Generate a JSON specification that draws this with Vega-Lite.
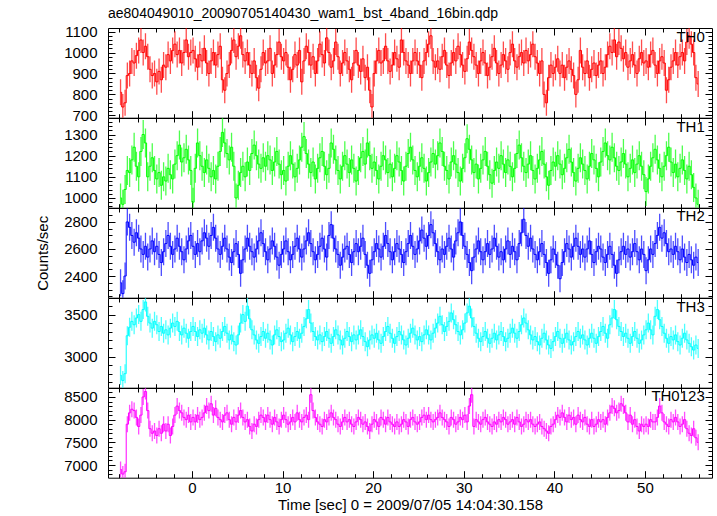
{
"$schema": "https://vega.github.io/schema/vega-lite/v6.json",
"padding": {"left": 35, "top": 7, "right": 0, "bottom": 0},
"background": "white",
"title": {"text": "ae804049010_20090705140430_wam1_bst_4band_16bin.qdp", "anchor": "start", "frame": "group", "fontSize": 14, "fontWeight": "normal", "font": "Liberation Sans", "color": "black", "offset": 3},
"config": {
  "font": "Liberation Sans",
  "view": {"stroke": "black", "strokeWidth": 1},
  "axis": {"domain": false, "grid": false, "tickColor": "black", "tickWidth": 1, "labelColor": "black", "labelFont": "Liberation Sans", "labelFontSize": 15, "titleFont": "Liberation Sans", "titleFontSize": 15, "titleFontWeight": "normal", "titleColor": "black"}
},
"datasets": {"lc": [
{"t":-7.875,"TH0":810,"TH1":1000,"TH2":2350,"TH3":2780,"TH0123":6900},
{"t":-7.625,"TH0":740,"TH1":970,"TH2":2270,"TH3":2720,"TH0123":6800},
{"t":-7.375,"TH0":760,"TH1":1040,"TH2":2400,"TH3":2800,"TH0123":6850},
{"t":-7.125,"TH0":890,"TH1":1130,"TH2":2800,"TH3":3250,"TH0123":7900},
{"t":-6.875,"TH0":900,"TH1":1120,"TH2":2760,"TH3":3350,"TH0123":8150},
{"t":-6.625,"TH0":960,"TH1":1180,"TH2":2700,"TH3":3420,"TH0123":8230},
{"t":-6.375,"TH0":950,"TH1":1240,"TH2":2650,"TH3":3380,"TH0123":8200},
{"t":-6.125,"TH0":985,"TH1":1150,"TH2":2720,"TH3":3460,"TH0123":8050},
{"t":-5.875,"TH0":1010,"TH1":1100,"TH2":2680,"TH3":3500,"TH0123":7850},
{"t":-5.625,"TH0":1060,"TH1":1220,"TH2":2600,"TH3":3420,"TH0123":8100},
{"t":-5.375,"TH0":1000,"TH1":1300,"TH2":2560,"TH3":3560,"TH0123":8500},
{"t":-5.125,"TH0":1030,"TH1":1260,"TH2":2620,"TH3":3650,"TH0123":8620},
{"t":-4.875,"TH0":980,"TH1":1100,"TH2":2540,"TH3":3480,"TH0123":8200},
{"t":-4.625,"TH0":920,"TH1":1150,"TH2":2600,"TH3":3400,"TH0123":7800},
{"t":-4.375,"TH0":890,"TH1":1190,"TH2":2660,"TH3":3340,"TH0123":7700},
{"t":-4.125,"TH0":900,"TH1":1130,"TH2":2580,"TH3":3420,"TH0123":7750},
{"t":-3.875,"TH0":860,"TH1":1090,"TH2":2620,"TH3":3380,"TH0123":7650},
{"t":-3.625,"TH0":910,"TH1":1120,"TH2":2560,"TH3":3300,"TH0123":7800},
{"t":-3.375,"TH0":870,"TH1":1060,"TH2":2500,"TH3":3360,"TH0123":7700},
{"t":-3.125,"TH0":940,"TH1":1100,"TH2":2580,"TH3":3280,"TH0123":7900},
{"t":-2.875,"TH0":930,"TH1":1080,"TH2":2640,"TH3":3320,"TH0123":7750},
{"t":-2.625,"TH0":990,"TH1":1140,"TH2":2700,"TH3":3260,"TH0123":7900},
{"t":-2.375,"TH0":960,"TH1":1110,"TH2":2620,"TH3":3340,"TH0123":7650},
{"t":-2.125,"TH0":1010,"TH1":1090,"TH2":2560,"TH3":3400,"TH0123":7850},
{"t":-1.875,"TH0":1040,"TH1":1160,"TH2":2600,"TH3":3360,"TH0123":8100},
{"t":-1.625,"TH0":990,"TH1":1200,"TH2":2680,"TH3":3420,"TH0123":8300},
{"t":-1.375,"TH0":1010,"TH1":1250,"TH2":2620,"TH3":3300,"TH0123":8200},
{"t":-1.125,"TH0":950,"TH1":1170,"TH2":2580,"TH3":3260,"TH0123":8150},
{"t":-0.875,"TH0":1000,"TH1":1190,"TH2":2520,"TH3":3340,"TH0123":8050},
{"t":-0.625,"TH0":1060,"TH1":1230,"TH2":2600,"TH3":3280,"TH0123":8000},
{"t":-0.375,"TH0":980,"TH1":1180,"TH2":2660,"TH3":3220,"TH0123":8100},
{"t":-0.125,"TH0":1000,"TH1":1130,"TH2":2700,"TH3":3300,"TH0123":7950},
{"t":0.125,"TH0":1010,"TH1":980,"TH2":2620,"TH3":3360,"TH0123":8050},
{"t":0.375,"TH0":970,"TH1":1140,"TH2":2560,"TH3":3300,"TH0123":7950},
{"t":0.625,"TH0":930,"TH1":1260,"TH2":2640,"TH3":3240,"TH0123":8100},
{"t":0.875,"TH0":990,"TH1":1200,"TH2":2580,"TH3":3320,"TH0123":8000},
{"t":1.125,"TH0":960,"TH1":1150,"TH2":2660,"TH3":3280,"TH0123":8050},
{"t":1.375,"TH0":1020,"TH1":1120,"TH2":2720,"TH3":3340,"TH0123":8150},
{"t":1.625,"TH0":950,"TH1":1180,"TH2":2680,"TH3":3260,"TH0123":8300},
{"t":1.875,"TH0":900,"TH1":1140,"TH2":2620,"TH3":3200,"TH0123":8200},
{"t":2.125,"TH0":960,"TH1":1100,"TH2":2700,"TH3":3300,"TH0123":8350},
{"t":2.375,"TH0":1000,"TH1":1130,"TH2":2760,"TH3":3240,"TH0123":8100},
{"t":2.625,"TH0":940,"TH1":1090,"TH2":2680,"TH3":3180,"TH0123":8250},
{"t":2.875,"TH0":990,"TH1":1150,"TH2":2600,"TH3":3260,"TH0123":8050},
{"t":3.125,"TH0":1030,"TH1":1220,"TH2":2560,"TH3":3220,"TH0123":8000},
{"t":3.375,"TH0":870,"TH1":1310,"TH2":2620,"TH3":3300,"TH0123":7950},
{"t":3.625,"TH0":820,"TH1":1260,"TH2":2680,"TH3":3360,"TH0123":8100},
{"t":3.875,"TH0":900,"TH1":1210,"TH2":2600,"TH3":3280,"TH0123":8150},
{"t":4.125,"TH0":940,"TH1":1180,"TH2":2540,"TH3":3200,"TH0123":8000},
{"t":4.375,"TH0":1010,"TH1":1240,"TH2":2500,"TH3":3260,"TH0123":7900},
{"t":4.625,"TH0":1060,"TH1":1150,"TH2":2580,"TH3":3180,"TH0123":8050},
{"t":4.875,"TH0":980,"TH1":1000,"TH2":2640,"TH3":3140,"TH0123":7950},
{"t":5.125,"TH0":1030,"TH1":1060,"TH2":2560,"TH3":3260,"TH0123":8100},
{"t":5.375,"TH0":1080,"TH1":1120,"TH2":2420,"TH3":3400,"TH0123":8200},
{"t":5.625,"TH0":990,"TH1":1150,"TH2":2520,"TH3":3500,"TH0123":8050},
{"t":5.875,"TH0":960,"TH1":1100,"TH2":2600,"TH3":3420,"TH0123":7950},
{"t":6.125,"TH0":1000,"TH1":1170,"TH2":2680,"TH3":3600,"TH0123":8000},
{"t":6.375,"TH0":940,"TH1":1130,"TH2":2620,"TH3":3450,"TH0123":7850},
{"t":6.625,"TH0":900,"TH1":1210,"TH2":2580,"TH3":3320,"TH0123":7750},
{"t":6.875,"TH0":960,"TH1":1250,"TH2":2540,"TH3":3260,"TH0123":7900},
{"t":7.125,"TH0":880,"TH1":1200,"TH2":2600,"TH3":3200,"TH0123":7850},
{"t":7.375,"TH0":830,"TH1":1160,"TH2":2660,"TH3":3160,"TH0123":8000},
{"t":7.625,"TH0":920,"TH1":1140,"TH2":2720,"TH3":3240,"TH0123":8100},
{"t":7.875,"TH0":1000,"TH1":1190,"TH2":2640,"TH3":3300,"TH0123":8050},
{"t":8.125,"TH0":950,"TH1":1150,"TH2":2580,"TH3":3220,"TH0123":7950},
{"t":8.375,"TH0":960,"TH1":1200,"TH2":2520,"TH3":3280,"TH0123":8100},
{"t":8.625,"TH0":1020,"TH1":1180,"TH2":2600,"TH3":3200,"TH0123":8000},
{"t":8.875,"TH0":900,"TH1":1130,"TH2":2660,"TH3":3140,"TH0123":7900},
{"t":9.125,"TH0":940,"TH1":1170,"TH2":2620,"TH3":3260,"TH0123":8050},
{"t":9.375,"TH0":990,"TH1":1220,"TH2":2540,"TH3":3320,"TH0123":7950},
{"t":9.625,"TH0":1050,"TH1":1160,"TH2":2480,"TH3":3240,"TH0123":7850},
{"t":9.875,"TH0":980,"TH1":1110,"TH2":2560,"TH3":3180,"TH0123":8000},
{"t":10.125,"TH0":960,"TH1":1130,"TH2":2600,"TH3":3200,"TH0123":8100},
{"t":10.375,"TH0":1000,"TH1":1080,"TH2":2660,"TH3":3280,"TH0123":8000},
{"t":10.625,"TH0":930,"TH1":1150,"TH2":2580,"TH3":3340,"TH0123":7900},
{"t":10.875,"TH0":870,"TH1":1200,"TH2":2520,"TH3":3260,"TH0123":7950},
{"t":11.125,"TH0":920,"TH1":1160,"TH2":2560,"TH3":3180,"TH0123":8050},
{"t":11.375,"TH0":990,"TH1":1100,"TH2":2620,"TH3":3240,"TH0123":7950},
{"t":11.625,"TH0":940,"TH1":1140,"TH2":2680,"TH3":3300,"TH0123":8150},
{"t":11.875,"TH0":1010,"TH1":1180,"TH2":2600,"TH3":3220,"TH0123":8000},
{"t":12.125,"TH0":860,"TH1":1240,"TH2":2540,"TH3":3280,"TH0123":7950},
{"t":12.375,"TH0":960,"TH1":1290,"TH2":2600,"TH3":3360,"TH0123":8050},
{"t":12.625,"TH0":1030,"TH1":1210,"TH2":2660,"TH3":3450,"TH0123":8100},
{"t":12.875,"TH0":1000,"TH1":1160,"TH2":2720,"TH3":3560,"TH0123":8000},
{"t":13.125,"TH0":940,"TH1":1120,"TH2":2640,"TH3":3400,"TH0123":8550},
{"t":13.375,"TH0":980,"TH1":1170,"TH2":2580,"TH3":3300,"TH0123":8200},
{"t":13.625,"TH0":900,"TH1":1090,"TH2":2520,"TH3":3240,"TH0123":8050},
{"t":13.875,"TH0":960,"TH1":1140,"TH2":2560,"TH3":3200,"TH0123":7950},
{"t":14.125,"TH0":1040,"TH1":1190,"TH2":2620,"TH3":3260,"TH0123":7900},
{"t":14.375,"TH0":990,"TH1":1220,"TH2":2680,"TH3":3180,"TH0123":7850},
{"t":14.625,"TH0":950,"TH1":1150,"TH2":2600,"TH3":3240,"TH0123":8000},
{"t":14.875,"TH0":1070,"TH1":1110,"TH2":2540,"TH3":3300,"TH0123":7950},
{"t":15.125,"TH0":1000,"TH1":1140,"TH2":2700,"TH3":3220,"TH0123":8050},
{"t":15.375,"TH0":930,"TH1":1260,"TH2":2780,"TH3":3160,"TH0123":8150},
{"t":15.625,"TH0":960,"TH1":1230,"TH2":2680,"TH3":3240,"TH0123":8050},
{"t":15.875,"TH0":1050,"TH1":1180,"TH2":2600,"TH3":3320,"TH0123":8000},
{"t":16.125,"TH0":980,"TH1":1130,"TH2":2560,"TH3":3260,"TH0123":7900},
{"t":16.375,"TH0":900,"TH1":1090,"TH2":2480,"TH3":3200,"TH0123":7850},
{"t":16.625,"TH0":950,"TH1":1150,"TH2":2540,"TH3":3140,"TH0123":7950},
{"t":16.875,"TH0":1000,"TH1":1200,"TH2":2600,"TH3":3220,"TH0123":8050},
{"t":17.125,"TH0":960,"TH1":1160,"TH2":2620,"TH3":3300,"TH0123":7950},
{"t":17.375,"TH0":920,"TH1":1120,"TH2":2560,"TH3":3240,"TH0123":8000},
{"t":17.625,"TH0":870,"TH1":1180,"TH2":2500,"TH3":3180,"TH0123":7900},
{"t":17.875,"TH0":950,"TH1":1140,"TH2":2580,"TH3":3260,"TH0123":7850},
{"t":18.125,"TH0":1010,"TH1":1080,"TH2":2640,"TH3":3200,"TH0123":7950},
{"t":18.375,"TH0":940,"TH1":1130,"TH2":2580,"TH3":3260,"TH0123":8050},
{"t":18.625,"TH0":910,"TH1":1190,"TH2":2620,"TH3":3320,"TH0123":8000},
{"t":18.875,"TH0":970,"TH1":1220,"TH2":2680,"TH3":3240,"TH0123":7900},
{"t":19.125,"TH0":880,"TH1":1160,"TH2":2560,"TH3":3180,"TH0123":7950},
{"t":19.375,"TH0":930,"TH1":1260,"TH2":2480,"TH3":3120,"TH0123":7850},
{"t":19.625,"TH0":820,"TH1":1200,"TH2":2420,"TH3":3200,"TH0123":7750},
{"t":19.875,"TH0":740,"TH1":1140,"TH2":2520,"TH3":3260,"TH0123":7900},
{"t":20.125,"TH0":900,"TH1":1170,"TH2":2580,"TH3":3220,"TH0123":8000},
{"t":20.375,"TH0":960,"TH1":1130,"TH2":2640,"TH3":3280,"TH0123":7950},
{"t":20.625,"TH0":1010,"TH1":1090,"TH2":2600,"TH3":3200,"TH0123":7850},
{"t":20.875,"TH0":950,"TH1":1150,"TH2":2540,"TH3":3160,"TH0123":8050},
{"t":21.125,"TH0":960,"TH1":1200,"TH2":2620,"TH3":3240,"TH0123":8000},
{"t":21.375,"TH0":1030,"TH1":1180,"TH2":2700,"TH3":3300,"TH0123":7900},
{"t":21.625,"TH0":960,"TH1":1120,"TH2":2640,"TH3":3360,"TH0123":8050},
{"t":21.875,"TH0":910,"TH1":1160,"TH2":2580,"TH3":3280,"TH0123":7950},
{"t":22.125,"TH0":940,"TH1":1100,"TH2":2520,"TH3":3220,"TH0123":7900},
{"t":22.375,"TH0":1000,"TH1":1140,"TH2":2580,"TH3":3160,"TH0123":7850},
{"t":22.625,"TH0":970,"TH1":1200,"TH2":2640,"TH3":3240,"TH0123":7950},
{"t":22.875,"TH0":930,"TH1":1170,"TH2":2600,"TH3":3300,"TH0123":7850},
{"t":23.125,"TH0":1060,"TH1":1130,"TH2":2560,"TH3":3260,"TH0123":7900},
{"t":23.375,"TH0":1000,"TH1":1080,"TH2":2500,"TH3":3200,"TH0123":8000},
{"t":23.625,"TH0":960,"TH1":1150,"TH2":2580,"TH3":3140,"TH0123":7950},
{"t":23.875,"TH0":940,"TH1":1210,"TH2":2640,"TH3":3220,"TH0123":7850},
{"t":24.125,"TH0":900,"TH1":1240,"TH2":2700,"TH3":3280,"TH0123":8000},
{"t":24.375,"TH0":960,"TH1":1180,"TH2":2620,"TH3":3340,"TH0123":8050},
{"t":24.625,"TH0":1000,"TH1":1130,"TH2":2560,"TH3":3260,"TH0123":7950},
{"t":24.875,"TH0":960,"TH1":1100,"TH2":2600,"TH3":3200,"TH0123":7900},
{"t":25.125,"TH0":940,"TH1":1150,"TH2":2660,"TH3":3240,"TH0123":7950},
{"t":25.375,"TH0":880,"TH1":1190,"TH2":2740,"TH3":3180,"TH0123":8050},
{"t":25.625,"TH0":960,"TH1":1140,"TH2":2680,"TH3":3260,"TH0123":8100},
{"t":25.875,"TH0":1000,"TH1":1080,"TH2":2620,"TH3":3320,"TH0123":8000},
{"t":26.125,"TH0":1040,"TH1":1120,"TH2":2700,"TH3":3260,"TH0123":8100},
{"t":26.375,"TH0":1080,"TH1":1170,"TH2":2780,"TH3":3200,"TH0123":8000},
{"t":26.625,"TH0":960,"TH1":1210,"TH2":2720,"TH3":3280,"TH0123":7950},
{"t":26.875,"TH0":930,"TH1":1160,"TH2":2640,"TH3":3340,"TH0123":8000},
{"t":27.125,"TH0":960,"TH1":1200,"TH2":2580,"TH3":3400,"TH0123":8050},
{"t":27.375,"TH0":920,"TH1":1260,"TH2":2520,"TH3":3480,"TH0123":8150},
{"t":27.625,"TH0":980,"TH1":1220,"TH2":2600,"TH3":3380,"TH0123":8050},
{"t":27.875,"TH0":1010,"TH1":1150,"TH2":2560,"TH3":3300,"TH0123":8000},
{"t":28.125,"TH0":940,"TH1":1130,"TH2":2620,"TH3":3360,"TH0123":7950},
{"t":28.375,"TH0":890,"TH1":1090,"TH2":2680,"TH3":3420,"TH0123":7850},
{"t":28.625,"TH0":950,"TH1":1170,"TH2":2600,"TH3":3520,"TH0123":8050},
{"t":28.875,"TH0":1000,"TH1":1200,"TH2":2540,"TH3":3440,"TH0123":8000},
{"t":29.125,"TH0":960,"TH1":1160,"TH2":2660,"TH3":3380,"TH0123":7900},
{"t":29.375,"TH0":1030,"TH1":1120,"TH2":2720,"TH3":3300,"TH0123":7950},
{"t":29.625,"TH0":990,"TH1":1080,"TH2":2800,"TH3":3260,"TH0123":8050},
{"t":29.875,"TH0":940,"TH1":1140,"TH2":2700,"TH3":3320,"TH0123":8000},
{"t":30.125,"TH0":910,"TH1":1190,"TH2":2620,"TH3":3400,"TH0123":8100},
{"t":30.375,"TH0":970,"TH1":1280,"TH2":2560,"TH3":3520,"TH0123":7950},
{"t":30.625,"TH0":1050,"TH1":1230,"TH2":2500,"TH3":3600,"TH0123":8300},
{"t":30.875,"TH0":1010,"TH1":1180,"TH2":2440,"TH3":3460,"TH0123":8550},
{"t":31.125,"TH0":980,"TH1":1120,"TH2":2540,"TH3":3360,"TH0123":7850},
{"t":31.375,"TH0":940,"TH1":1160,"TH2":2600,"TH3":3280,"TH0123":8000},
{"t":31.625,"TH0":900,"TH1":1090,"TH2":2660,"TH3":3220,"TH0123":7950},
{"t":31.875,"TH0":960,"TH1":1140,"TH2":2580,"TH3":3180,"TH0123":7900},
{"t":32.125,"TH0":1000,"TH1":1180,"TH2":2520,"TH3":3240,"TH0123":8000},
{"t":32.375,"TH0":950,"TH1":1220,"TH2":2580,"TH3":3300,"TH0123":8050},
{"t":32.625,"TH0":890,"TH1":1150,"TH2":2640,"TH3":3220,"TH0123":7950},
{"t":32.875,"TH0":930,"TH1":1110,"TH2":2560,"TH3":3160,"TH0123":7900},
{"t":33.125,"TH0":980,"TH1":1070,"TH2":2600,"TH3":3220,"TH0123":7850},
{"t":33.375,"TH0":1020,"TH1":1130,"TH2":2680,"TH3":3280,"TH0123":7950},
{"t":33.625,"TH0":950,"TH1":1170,"TH2":2620,"TH3":3200,"TH0123":7900},
{"t":33.875,"TH0":900,"TH1":1140,"TH2":2540,"TH3":3260,"TH0123":8000},
{"t":34.125,"TH0":940,"TH1":1200,"TH2":2580,"TH3":3300,"TH0123":7950},
{"t":34.375,"TH0":990,"TH1":1160,"TH2":2520,"TH3":3240,"TH0123":8050},
{"t":34.625,"TH0":960,"TH1":1120,"TH2":2600,"TH3":3180,"TH0123":8000},
{"t":34.875,"TH0":920,"TH1":1180,"TH2":2660,"TH3":3220,"TH0123":7900},
{"t":35.125,"TH0":1000,"TH1":1150,"TH2":2560,"TH3":3280,"TH0123":7950},
{"t":35.375,"TH0":1040,"TH1":1100,"TH2":2620,"TH3":3340,"TH0123":8000},
{"t":35.625,"TH0":960,"TH1":1140,"TH2":2580,"TH3":3280,"TH0123":7900},
{"t":35.875,"TH0":930,"TH1":1210,"TH2":2520,"TH3":3220,"TH0123":8050},
{"t":36.125,"TH0":980,"TH1":1250,"TH2":2640,"TH3":3300,"TH0123":7950},
{"t":36.375,"TH0":1000,"TH1":1190,"TH2":2720,"TH3":3380,"TH0123":7850},
{"t":36.625,"TH0":950,"TH1":1150,"TH2":2820,"TH3":3460,"TH0123":7900},
{"t":36.875,"TH0":1010,"TH1":1120,"TH2":2700,"TH3":3400,"TH0123":8000},
{"t":37.125,"TH0":960,"TH1":1160,"TH2":2620,"TH3":3320,"TH0123":7950},
{"t":37.375,"TH0":990,"TH1":1200,"TH2":2680,"TH3":3260,"TH0123":8000},
{"t":37.625,"TH0":1040,"TH1":1130,"TH2":2600,"TH3":3200,"TH0123":7900},
{"t":37.875,"TH0":980,"TH1":1090,"TH2":2560,"TH3":3240,"TH0123":7850},
{"t":38.125,"TH0":950,"TH1":1140,"TH2":2520,"TH3":3180,"TH0123":7900},
{"t":38.375,"TH0":900,"TH1":1180,"TH2":2580,"TH3":3140,"TH0123":7950},
{"t":38.625,"TH0":960,"TH1":1220,"TH2":2640,"TH3":3220,"TH0123":7850},
{"t":38.875,"TH0":800,"TH1":1160,"TH2":2560,"TH3":3280,"TH0123":7800},
{"t":39.125,"TH0":760,"TH1":1100,"TH2":2500,"TH3":3200,"TH0123":7750},
{"t":39.375,"TH0":880,"TH1":1060,"TH2":2420,"TH3":3140,"TH0123":7700},
{"t":39.625,"TH0":940,"TH1":1130,"TH2":2520,"TH3":3100,"TH0123":7850},
{"t":39.875,"TH0":900,"TH1":1170,"TH2":2600,"TH3":3180,"TH0123":7900},
{"t":40.125,"TH0":930,"TH1":1150,"TH2":2560,"TH3":3240,"TH0123":8000},
{"t":40.375,"TH0":970,"TH1":1200,"TH2":2480,"TH3":3300,"TH0123":8100},
{"t":40.625,"TH0":900,"TH1":1160,"TH2":2380,"TH3":3220,"TH0123":8050},
{"t":40.875,"TH0":940,"TH1":1110,"TH2":2500,"TH3":3160,"TH0123":8150},
{"t":41.125,"TH0":880,"TH1":1140,"TH2":2580,"TH3":3220,"TH0123":8050},
{"t":41.375,"TH0":930,"TH1":1190,"TH2":2640,"TH3":3280,"TH0123":7950},
{"t":41.625,"TH0":960,"TH1":1230,"TH2":2600,"TH3":3200,"TH0123":8100},
{"t":41.875,"TH0":920,"TH1":1170,"TH2":2540,"TH3":3140,"TH0123":8000},
{"t":42.125,"TH0":890,"TH1":1120,"TH2":2620,"TH3":3180,"TH0123":8050},
{"t":42.375,"TH0":800,"TH1":1080,"TH2":2680,"TH3":3240,"TH0123":7900},
{"t":42.625,"TH0":870,"TH1":1140,"TH2":2620,"TH3":3300,"TH0123":8100},
{"t":42.875,"TH0":1010,"TH1":1190,"TH2":2560,"TH3":3220,"TH0123":8000},
{"t":43.125,"TH0":930,"TH1":1160,"TH2":2600,"TH3":3260,"TH0123":7950},
{"t":43.375,"TH0":900,"TH1":1130,"TH2":2540,"TH3":3200,"TH0123":8050},
{"t":43.625,"TH0":960,"TH1":1090,"TH2":2600,"TH3":3140,"TH0123":7900},
{"t":43.875,"TH0":880,"TH1":1150,"TH2":2660,"TH3":3220,"TH0123":7850},
{"t":44.125,"TH0":920,"TH1":1210,"TH2":2560,"TH3":3280,"TH0123":8000},
{"t":44.375,"TH0":950,"TH1":1180,"TH2":2500,"TH3":3220,"TH0123":7850},
{"t":44.625,"TH0":890,"TH1":1140,"TH2":2580,"TH3":3160,"TH0123":7900},
{"t":44.875,"TH0":940,"TH1":1100,"TH2":2620,"TH3":3240,"TH0123":8000},
{"t":45.125,"TH0":960,"TH1":1170,"TH2":2600,"TH3":3300,"TH0123":7950},
{"t":45.375,"TH0":900,"TH1":1220,"TH2":2540,"TH3":3360,"TH0123":8000},
{"t":45.625,"TH0":930,"TH1":1260,"TH2":2500,"TH3":3280,"TH0123":7900},
{"t":45.875,"TH0":990,"TH1":1200,"TH2":2560,"TH3":3220,"TH0123":8050},
{"t":46.125,"TH0":1030,"TH1":1180,"TH2":2620,"TH3":3380,"TH0123":8150},
{"t":46.375,"TH0":1000,"TH1":1240,"TH2":2560,"TH3":3460,"TH0123":8300},
{"t":46.625,"TH0":1060,"TH1":1190,"TH2":2480,"TH3":3560,"TH0123":8250},
{"t":46.875,"TH0":980,"TH1":1150,"TH2":2420,"TH3":3440,"TH0123":8150},
{"t":47.125,"TH0":1050,"TH1":1130,"TH2":2520,"TH3":3360,"TH0123":8200},
{"t":47.375,"TH0":1020,"TH1":1170,"TH2":2580,"TH3":3300,"TH0123":8350},
{"t":47.625,"TH0":970,"TH1":1210,"TH2":2620,"TH3":3240,"TH0123":8300},
{"t":47.875,"TH0":1000,"TH1":1160,"TH2":2560,"TH3":3280,"TH0123":8150},
{"t":48.125,"TH0":930,"TH1":1100,"TH2":2600,"TH3":3220,"TH0123":7950},
{"t":48.375,"TH0":960,"TH1":1140,"TH2":2540,"TH3":3160,"TH0123":8100},
{"t":48.625,"TH0":990,"TH1":1180,"TH2":2580,"TH3":3240,"TH0123":7900},
{"t":48.875,"TH0":940,"TH1":1120,"TH2":2640,"TH3":3300,"TH0123":8000},
{"t":49.125,"TH0":900,"TH1":1160,"TH2":2580,"TH3":3220,"TH0123":7850},
{"t":49.375,"TH0":970,"TH1":1200,"TH2":2520,"TH3":3160,"TH0123":7750},
{"t":49.625,"TH0":1000,"TH1":1150,"TH2":2600,"TH3":3200,"TH0123":7900},
{"t":49.875,"TH0":950,"TH1":1110,"TH2":2560,"TH3":3260,"TH0123":7850},
{"t":50.125,"TH0":960,"TH1":1030,"TH2":2440,"TH3":3320,"TH0123":7900},
{"t":50.375,"TH0":930,"TH1":1090,"TH2":2520,"TH3":3400,"TH0123":7850},
{"t":50.625,"TH0":990,"TH1":1150,"TH2":2600,"TH3":3320,"TH0123":8000},
{"t":50.875,"TH0":1010,"TH1":1190,"TH2":2560,"TH3":3260,"TH0123":7950},
{"t":51.125,"TH0":940,"TH1":1230,"TH2":2640,"TH3":3480,"TH0123":7950},
{"t":51.375,"TH0":900,"TH1":1180,"TH2":2700,"TH3":3560,"TH0123":8050},
{"t":51.625,"TH0":960,"TH1":1140,"TH2":2760,"TH3":3440,"TH0123":8300},
{"t":51.875,"TH0":980,"TH1":1100,"TH2":2680,"TH3":3360,"TH0123":8150},
{"t":52.125,"TH0":950,"TH1":1150,"TH2":2720,"TH3":3280,"TH0123":7950},
{"t":52.375,"TH0":820,"TH1":1200,"TH2":2640,"TH3":3220,"TH0123":7900},
{"t":52.625,"TH0":870,"TH1":1240,"TH2":2580,"TH3":3160,"TH0123":7850},
{"t":52.875,"TH0":930,"TH1":1170,"TH2":2600,"TH3":3240,"TH0123":8000},
{"t":53.125,"TH0":960,"TH1":1120,"TH2":2560,"TH3":3200,"TH0123":7950},
{"t":53.375,"TH0":1000,"TH1":1160,"TH2":2620,"TH3":3260,"TH0123":8050},
{"t":53.625,"TH0":940,"TH1":1100,"TH2":2580,"TH3":3180,"TH0123":7950},
{"t":53.875,"TH0":980,"TH1":1140,"TH2":2520,"TH3":3140,"TH0123":7850},
{"t":54.125,"TH0":1000,"TH1":1180,"TH2":2600,"TH3":3220,"TH0123":7900},
{"t":54.375,"TH0":960,"TH1":1130,"TH2":2540,"TH3":3280,"TH0123":8000},
{"t":54.625,"TH0":1050,"TH1":1090,"TH2":2500,"TH3":3200,"TH0123":7800},
{"t":54.875,"TH0":1080,"TH1":1150,"TH2":2560,"TH3":3160,"TH0123":7700},
{"t":55.125,"TH0":1040,"TH1":1110,"TH2":2520,"TH3":3120,"TH0123":7650},
{"t":55.375,"TH0":1000,"TH1":1050,"TH2":2480,"TH3":3080,"TH0123":7800},
{"t":55.625,"TH0":880,"TH1":1000,"TH2":2540,"TH3":3140,"TH0123":7600},
{"t":55.875,"TH0":850,"TH1":970,"TH2":2500,"TH3":3100,"TH0123":7500}
]},
"data": {"name": "lc"},
"spacing": 0,
"bounds": "flush",
"vconcat": [
{
 "width": 604, "height": 89.7,
 "layer": [
  {"mark": {"type": "tick", "orient": "vertical", "size": 26, "thickness": 1.3, "color": "#ff0000", "opacity": 0.7, "clip": true},
   "encoding": {
    "x": {"field": "t", "type": "quantitative", "scale": {"domain": [-9.26, 57.4], "nice": false, "zero": false}, "axis": {"orient": "bottom", "values": [0,10,20,30,40,50], "labels": false, "tickSize": -7, "title": null}},
    "y": {"field": "TH0", "type": "quantitative", "scale": {"domain": [689, 1117], "nice": false, "zero": false}, "axis": {"orient": "left", "values": [700,800,900,1000,1100], "labels": false, "tickSize": -7, "title": null}}}},
  {"mark": {"type": "line", "interpolate": "step", "color": "#ff0000", "strokeWidth": 1, "clip": true},
   "encoding": {
    "x": {"field": "t", "type": "quantitative", "axis": {"orient": "top", "values": [0,10,20,30,40,50], "labels": false, "tickSize": -7, "title": null}},
    "y": {"field": "TH0", "type": "quantitative", "axis": {"orient": "right", "values": [700,800,900,1000,1100], "labels": false, "tickSize": -7, "title": null}}}},
  {"mark": {"type": "point", "opacity": 0},
   "encoding": {
    "x": {"field": "t", "type": "quantitative", "axis": {"orient": "bottom", "values": [-8,-6,-4,-2,2,4,6,8,12,14,16,18,22,24,26,28,32,34,36,38,42,44,46,48,52,54,56], "labels": false, "tickSize": -4, "title": null}},
    "y": {"field": "TH0", "type": "quantitative", "axis": {"orient": "left", "values": [720,740,760,780,820,840,860,880,920,940,960,980,1020,1040,1060,1080], "labels": false, "tickSize": -4, "title": null}}}},
  {"mark": {"type": "point", "opacity": 0},
   "encoding": {
    "x": {"field": "t", "type": "quantitative", "axis": {"orient": "top", "values": [-8,-6,-4,-2,2,4,6,8,12,14,16,18,22,24,26,28,32,34,36,38,42,44,46,48,52,54,56], "labels": false, "tickSize": -4, "title": null}},
    "y": {"field": "TH0", "type": "quantitative", "axis": {"orient": "right", "values": [720,740,760,780,820,840,860,880,920,940,960,980,1020,1040,1060,1080], "labels": false, "tickSize": -4, "title": null}}}},
  {"mark": {"type": "point", "opacity": 0},
   "encoding": {
    "x": {"field": "t", "type": "quantitative", "axis": null},
    "y": {"field": "TH0", "type": "quantitative", "axis": {"orient": "left", "values": [700,800,900,1000,1100], "format": "d", "ticks": false, "labelPadding": 11, "title": null}}}},
  {"data": {"values": [{"label": "TH0"}]},
   "mark": {"type": "text", "align": "right", "baseline": "alphabetic", "fontSize": 15, "font": "Liberation Sans", "color": "black"},
   "encoding": {"x": {"datum": 56.6, "type": "quantitative", "axis": null}, "y": {"datum": 1052, "type": "quantitative", "axis": null}, "text": {"field": "label"}}}
 ],
 "resolve": {"axis": {"x": "independent", "y": "independent"}}
},
{
 "width": 604, "height": 89.7,
 "layer": [
  {"mark": {"type": "tick", "orient": "vertical", "size": 29, "thickness": 1.3, "color": "#00ff00", "opacity": 0.7, "clip": true},
   "encoding": {
    "x": {"field": "t", "type": "quantitative", "scale": {"domain": [-9.26, 57.4], "nice": false, "zero": false}, "axis": {"orient": "bottom", "values": [0,10,20,30,40,50], "labels": false, "tickSize": -7, "title": null}},
    "y": {"field": "TH1", "type": "quantitative", "scale": {"domain": [954, 1378], "nice": false, "zero": false}, "axis": {"orient": "left", "values": [1000,1100,1200,1300], "labels": false, "tickSize": -7, "title": null}}}},
  {"mark": {"type": "line", "interpolate": "step", "color": "#00ff00", "strokeWidth": 1, "clip": true},
   "encoding": {
    "x": {"field": "t", "type": "quantitative", "axis": {"orient": "top", "values": [0,10,20,30,40,50], "labels": false, "tickSize": -7, "title": null}},
    "y": {"field": "TH1", "type": "quantitative", "axis": {"orient": "right", "values": [1000,1100,1200,1300], "labels": false, "tickSize": -7, "title": null}}}},
  {"mark": {"type": "point", "opacity": 0},
   "encoding": {
    "x": {"field": "t", "type": "quantitative", "axis": {"orient": "bottom", "values": [-8,-6,-4,-2,2,4,6,8,12,14,16,18,22,24,26,28,32,34,36,38,42,44,46,48,52,54,56], "labels": false, "tickSize": -4, "title": null}},
    "y": {"field": "TH1", "type": "quantitative", "axis": {"orient": "left", "values": [960,980,1020,1040,1060,1080,1120,1140,1160,1180,1220,1240,1260,1280,1320,1340,1360], "labels": false, "tickSize": -4, "title": null}}}},
  {"mark": {"type": "point", "opacity": 0},
   "encoding": {
    "x": {"field": "t", "type": "quantitative", "axis": {"orient": "top", "values": [-8,-6,-4,-2,2,4,6,8,12,14,16,18,22,24,26,28,32,34,36,38,42,44,46,48,52,54,56], "labels": false, "tickSize": -4, "title": null}},
    "y": {"field": "TH1", "type": "quantitative", "axis": {"orient": "right", "values": [960,980,1020,1040,1060,1080,1120,1140,1160,1180,1220,1240,1260,1280,1320,1340,1360], "labels": false, "tickSize": -4, "title": null}}}},
  {"mark": {"type": "point", "opacity": 0},
   "encoding": {
    "x": {"field": "t", "type": "quantitative", "axis": null},
    "y": {"field": "TH1", "type": "quantitative", "axis": {"orient": "left", "values": [1000,1100,1200,1300], "format": "d", "ticks": false, "labelPadding": 11, "title": null}}}},
  {"data": {"values": [{"label": "TH1"}]},
   "mark": {"type": "text", "align": "right", "baseline": "alphabetic", "fontSize": 15, "font": "Liberation Sans", "color": "black"},
   "encoding": {"x": {"datum": 56.6, "type": "quantitative", "axis": null}, "y": {"datum": 1314, "type": "quantitative", "axis": null}, "text": {"field": "label"}}}
 ],
 "resolve": {"axis": {"x": "independent", "y": "independent"}}
},
{
 "width": 604, "height": 89.7,
 "layer": [
  {"mark": {"type": "tick", "orient": "vertical", "size": 27, "thickness": 1.3, "color": "#0000ff", "opacity": 0.7, "clip": true},
   "encoding": {
    "x": {"field": "t", "type": "quantitative", "scale": {"domain": [-9.26, 57.4], "nice": false, "zero": false}, "axis": {"orient": "bottom", "values": [0,10,20,30,40,50], "labels": false, "tickSize": -7, "title": null}},
    "y": {"field": "TH2", "type": "quantitative", "scale": {"domain": [2240, 2903], "nice": false, "zero": false}, "axis": {"orient": "left", "values": [2400,2600,2800], "labels": false, "tickSize": -7, "title": null}}}},
  {"mark": {"type": "line", "interpolate": "step", "color": "#0000ff", "strokeWidth": 1, "clip": true},
   "encoding": {
    "x": {"field": "t", "type": "quantitative", "axis": {"orient": "top", "values": [0,10,20,30,40,50], "labels": false, "tickSize": -7, "title": null}},
    "y": {"field": "TH2", "type": "quantitative", "axis": {"orient": "right", "values": [2400,2600,2800], "labels": false, "tickSize": -7, "title": null}}}},
  {"mark": {"type": "point", "opacity": 0},
   "encoding": {
    "x": {"field": "t", "type": "quantitative", "axis": {"orient": "bottom", "values": [-8,-6,-4,-2,2,4,6,8,12,14,16,18,22,24,26,28,32,34,36,38,42,44,46,48,52,54,56], "labels": false, "tickSize": -4, "title": null}},
    "y": {"field": "TH2", "type": "quantitative", "axis": {"orient": "left", "values": [2250,2300,2350,2450,2500,2550,2650,2700,2750,2850,2900], "labels": false, "tickSize": -4, "title": null}}}},
  {"mark": {"type": "point", "opacity": 0},
   "encoding": {
    "x": {"field": "t", "type": "quantitative", "axis": {"orient": "top", "values": [-8,-6,-4,-2,2,4,6,8,12,14,16,18,22,24,26,28,32,34,36,38,42,44,46,48,52,54,56], "labels": false, "tickSize": -4, "title": null}},
    "y": {"field": "TH2", "type": "quantitative", "axis": {"orient": "right", "values": [2250,2300,2350,2450,2500,2550,2650,2700,2750,2850,2900], "labels": false, "tickSize": -4, "title": null}}}},
  {"mark": {"type": "point", "opacity": 0},
   "encoding": {
    "x": {"field": "t", "type": "quantitative", "axis": null},
    "y": {"field": "TH2", "type": "quantitative", "axis": {"orient": "left", "values": [2400,2600,2800], "format": "d", "ticks": false, "labelPadding": 11, "title": "Counts/sec", "titlePadding": 13}}}},
  {"data": {"values": [{"label": "TH2"}]},
   "mark": {"type": "text", "align": "right", "baseline": "alphabetic", "fontSize": 15, "font": "Liberation Sans", "color": "black"},
   "encoding": {"x": {"datum": 56.6, "type": "quantitative", "axis": null}, "y": {"datum": 2804, "type": "quantitative", "axis": null}, "text": {"field": "label"}}}
 ],
 "resolve": {"axis": {"x": "independent", "y": "independent"}}
},
{
 "width": 604, "height": 89.7,
 "layer": [
  {"mark": {"type": "tick", "orient": "vertical", "size": 19, "thickness": 1.3, "color": "#00ffff", "opacity": 0.7, "clip": true},
   "encoding": {
    "x": {"field": "t", "type": "quantitative", "scale": {"domain": [-9.26, 57.4], "nice": false, "zero": false}, "axis": {"orient": "bottom", "values": [0,10,20,30,40,50], "labels": false, "tickSize": -7, "title": null}},
    "y": {"field": "TH3", "type": "quantitative", "scale": {"domain": [2634, 3697], "nice": false, "zero": false}, "axis": {"orient": "left", "values": [3000,3500], "labels": false, "tickSize": -7, "title": null}}}},
  {"mark": {"type": "line", "interpolate": "step", "color": "#00ffff", "strokeWidth": 1, "clip": true},
   "encoding": {
    "x": {"field": "t", "type": "quantitative", "axis": {"orient": "top", "values": [0,10,20,30,40,50], "labels": false, "tickSize": -7, "title": null}},
    "y": {"field": "TH3", "type": "quantitative", "axis": {"orient": "right", "values": [3000,3500], "labels": false, "tickSize": -7, "title": null}}}},
  {"mark": {"type": "point", "opacity": 0},
   "encoding": {
    "x": {"field": "t", "type": "quantitative", "axis": {"orient": "bottom", "values": [-8,-6,-4,-2,2,4,6,8,12,14,16,18,22,24,26,28,32,34,36,38,42,44,46,48,52,54,56], "labels": false, "tickSize": -4, "title": null}},
    "y": {"field": "TH3", "type": "quantitative", "axis": {"orient": "left", "values": [2700,2800,2900,3100,3200,3300,3400,3600], "labels": false, "tickSize": -4, "title": null}}}},
  {"mark": {"type": "point", "opacity": 0},
   "encoding": {
    "x": {"field": "t", "type": "quantitative", "axis": {"orient": "top", "values": [-8,-6,-4,-2,2,4,6,8,12,14,16,18,22,24,26,28,32,34,36,38,42,44,46,48,52,54,56], "labels": false, "tickSize": -4, "title": null}},
    "y": {"field": "TH3", "type": "quantitative", "axis": {"orient": "right", "values": [2700,2800,2900,3100,3200,3300,3400,3600], "labels": false, "tickSize": -4, "title": null}}}},
  {"mark": {"type": "point", "opacity": 0},
   "encoding": {
    "x": {"field": "t", "type": "quantitative", "axis": null},
    "y": {"field": "TH3", "type": "quantitative", "axis": {"orient": "left", "values": [3000,3500], "format": "d", "ticks": false, "labelPadding": 11, "title": null}}}},
  {"data": {"values": [{"label": "TH3"}]},
   "mark": {"type": "text", "align": "right", "baseline": "alphabetic", "fontSize": 15, "font": "Liberation Sans", "color": "black"},
   "encoding": {"x": {"datum": 56.6, "type": "quantitative", "axis": null}, "y": {"datum": 3537, "type": "quantitative", "axis": null}, "text": {"field": "label"}}}
 ],
 "resolve": {"axis": {"x": "independent", "y": "independent"}}
},
{
 "width": 604, "height": 89.7,
 "layer": [
  {"mark": {"type": "tick", "orient": "vertical", "size": 16, "thickness": 1.3, "color": "#ff00ff", "opacity": 0.7, "clip": true},
   "encoding": {
    "x": {"field": "t", "type": "quantitative", "scale": {"domain": [-9.26, 57.4], "nice": false, "zero": false}, "axis": {"orient": "bottom", "values": [0,10,20,30,40,50], "labels": false, "tickSize": -7, "title": null}},
    "y": {"field": "TH0123", "type": "quantitative", "scale": {"domain": [6720, 8698], "nice": false, "zero": false}, "axis": {"orient": "left", "values": [7000,7500,8000,8500], "labels": false, "tickSize": -7, "title": null}}}},
  {"mark": {"type": "line", "interpolate": "step", "color": "#ff00ff", "strokeWidth": 1, "clip": true},
   "encoding": {
    "x": {"field": "t", "type": "quantitative", "axis": {"orient": "top", "values": [0,10,20,30,40,50], "labels": false, "tickSize": -7, "title": null}},
    "y": {"field": "TH0123", "type": "quantitative", "axis": {"orient": "right", "values": [7000,7500,8000,8500], "labels": false, "tickSize": -7, "title": null}}}},
  {"mark": {"type": "point", "opacity": 0},
   "encoding": {
    "x": {"field": "t", "type": "quantitative", "axis": {"orient": "bottom", "values": [-8,-6,-4,-2,2,4,6,8,12,14,16,18,22,24,26,28,32,34,36,38,42,44,46,48,52,54,56], "labels": false, "tickSize": -4, "title": null}},
    "y": {"field": "TH0123", "type": "quantitative", "axis": {"orient": "left", "values": [6800,6900,7100,7200,7300,7400,7600,7700,7800,7900,8100,8200,8300,8400,8600], "labels": false, "tickSize": -4, "title": null}}}},
  {"mark": {"type": "point", "opacity": 0},
   "encoding": {
    "x": {"field": "t", "type": "quantitative", "axis": {"orient": "top", "values": [-8,-6,-4,-2,2,4,6,8,12,14,16,18,22,24,26,28,32,34,36,38,42,44,46,48,52,54,56], "labels": false, "tickSize": -4, "title": null}},
    "y": {"field": "TH0123", "type": "quantitative", "axis": {"orient": "right", "values": [6800,6900,7100,7200,7300,7400,7600,7700,7800,7900,8100,8200,8300,8400,8600], "labels": false, "tickSize": -4, "title": null}}}},
  {"mark": {"type": "point", "opacity": 0},
   "encoding": {
    "x": {"field": "t", "type": "quantitative", "axis": {"orient": "bottom", "values": [0,10,20,30,40,50], "format": "d", "ticks": false, "labelPadding": 3, "title": "Time [sec] 0 = 2009/07/05 14:04:30.158", "titlePadding": 2}},
    "y": {"field": "TH0123", "type": "quantitative", "axis": {"orient": "left", "values": [7000,7500,8000,8500], "format": "d", "ticks": false, "labelPadding": 11, "title": null}}}},
  {"data": {"values": [{"label": "TH0123"}]},
   "mark": {"type": "text", "align": "right", "baseline": "alphabetic", "fontSize": 15, "font": "Liberation Sans", "color": "black"},
   "encoding": {"x": {"datum": 56.6, "type": "quantitative", "axis": null}, "y": {"datum": 8401, "type": "quantitative", "axis": null}, "text": {"field": "label"}}}
 ],
 "resolve": {"axis": {"x": "independent", "y": "independent"}}
}
]
}
